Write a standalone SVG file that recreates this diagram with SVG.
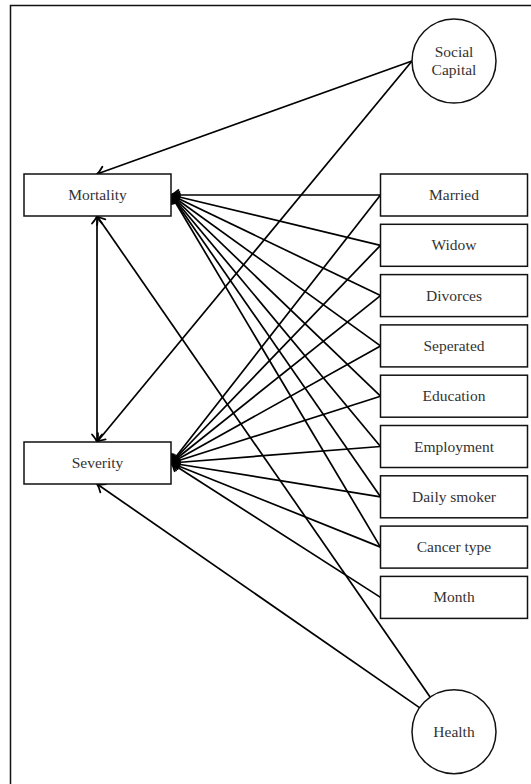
<svg xmlns="http://www.w3.org/2000/svg" width="531" height="784" viewBox="0 0 531 784">
<defs>
<style>
.box{fill:#fff;stroke:#111;stroke-width:1.5}
.lbl{font-family:"Liberation Serif","DejaVu Serif",serif;font-size:15.5px;fill:#333;text-anchor:middle}
.edge{fill:none;stroke:#000;stroke-width:1.7}
</style>
<marker id="arr" viewBox="-10 -7 12 14" refX="0" refY="0" markerWidth="12" markerHeight="14" markerUnits="userSpaceOnUse" orient="auto-start-reverse">
<path d="M-7.5,-5 Q-3,-1 0,0 Q-3,1 -7.5,5" fill="none" stroke="#000" stroke-width="1.8" stroke-linecap="round" stroke-linejoin="round"/>
</marker>
</defs>
<rect width="531" height="784" fill="#fff"/>
<path d="M10.5,800 V5.5 H540" fill="none" stroke="#111" stroke-width="1.5"/>

<g id="connectors">
<path class="edge" d="M412,61 L97,174" marker-end="url(#arr)"/>
<path class="edge" d="M412,61 L97,442" marker-end="url(#arr)"/>
<path class="edge" d="M97,216 L97,442" marker-start="url(#arr)" marker-end="url(#arr)"/>
<path class="edge" d="M430.1,697.1 L97,216" marker-end="url(#arr)"/>
<path class="edge" d="M419.5,707.6 L97,484" marker-end="url(#arr)"/>
<path class="edge" d="M380.5,195 L171,195" marker-end="url(#arr)"/>
<path class="edge" d="M380.5,245.3 L171,195" marker-end="url(#arr)"/>
<path class="edge" d="M380.5,295.6 L171,195" marker-end="url(#arr)"/>
<path class="edge" d="M380.5,345.9 L171,195" marker-end="url(#arr)"/>
<path class="edge" d="M380.5,396.2 L171,195" marker-end="url(#arr)"/>
<path class="edge" d="M380.5,446.5 L171,195" marker-end="url(#arr)"/>
<path class="edge" d="M380.5,496.8 L171,195" marker-end="url(#arr)"/>
<path class="edge" d="M380.5,547.1 L171,195" marker-end="url(#arr)"/>
<path class="edge" d="M380.5,195 L171,463" marker-end="url(#arr)"/>
<path class="edge" d="M380.5,245.3 L171,463" marker-end="url(#arr)"/>
<path class="edge" d="M380.5,295.6 L171,463" marker-end="url(#arr)"/>
<path class="edge" d="M380.5,345.9 L171,463" marker-end="url(#arr)"/>
<path class="edge" d="M380.5,396.2 L171,463" marker-end="url(#arr)"/>
<path class="edge" d="M380.5,446.5 L171,463" marker-end="url(#arr)"/>
<path class="edge" d="M380.5,496.8 L171,463" marker-end="url(#arr)"/>
<path class="edge" d="M380.5,547.1 L171,463" marker-end="url(#arr)"/>
<path class="edge" d="M380.5,597.4 L171,463" marker-end="url(#arr)"/>
</g>

<g id="social-capital">
<circle class="box" cx="454" cy="61" r="42"/>
<text class="lbl" x="454" y="57">Social</text>
<text class="lbl" x="454" y="74.5">Capital</text>
</g>
<g id="mortality">
<rect class="box" x="24" y="174" width="147" height="42"/>
<text class="lbl" x="97.5" y="200">Mortality</text>
</g>
<g id="severity">
<rect class="box" x="24" y="442" width="147" height="42"/>
<text class="lbl" x="97.5" y="468">Severity</text>
</g>
<g id="married">
<rect class="box" x="380.5" y="174" width="147" height="42"/>
<text class="lbl" x="454" y="200">Married</text>
</g>
<g id="widow">
<rect class="box" x="380.5" y="224.3" width="147" height="42"/>
<text class="lbl" x="454" y="250.3">Widow</text>
</g>
<g id="divorces">
<rect class="box" x="380.5" y="274.6" width="147" height="42"/>
<text class="lbl" x="454" y="300.6">Divorces</text>
</g>
<g id="seperated">
<rect class="box" x="380.5" y="324.9" width="147" height="42"/>
<text class="lbl" x="454" y="350.9">Seperated</text>
</g>
<g id="education">
<rect class="box" x="380.5" y="375.2" width="147" height="42"/>
<text class="lbl" x="454" y="401.2">Education</text>
</g>
<g id="employment">
<rect class="box" x="380.5" y="425.5" width="147" height="42"/>
<text class="lbl" x="454" y="451.5">Employment</text>
</g>
<g id="daily-smoker">
<rect class="box" x="380.5" y="475.8" width="147" height="42"/>
<text class="lbl" x="454" y="501.8">Daily smoker</text>
</g>
<g id="cancer-type">
<rect class="box" x="380.5" y="526.1" width="147" height="42"/>
<text class="lbl" x="454" y="552.1">Cancer type</text>
</g>
<g id="month">
<rect class="box" x="380.5" y="576.4" width="147" height="42"/>
<text class="lbl" x="454" y="602.4">Month</text>
</g>
<g id="health">
<circle class="box" cx="454" cy="731.7" r="42"/>
<text class="lbl" x="454" y="737">Health</text>
</g>
</svg>
